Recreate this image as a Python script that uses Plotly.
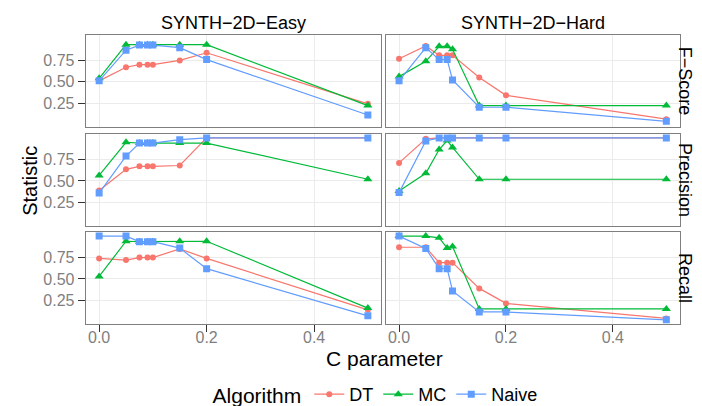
import plotly.graph_objects as go
from plotly.subplots import make_subplots

# ---- data ----
c_values = [0, 0.05, 0.075, 0.09, 0.1, 0.15, 0.2, 0.5]
datasets = ["SYNTH−2D−Easy", "SYNTH−2D−Hard"]
statistics = ["F−Score", "Precision", "Recall"]
algorithms = ["DT", "MC", "Naive"]

easy_fscore_dt = [0.51, 0.67, 0.70, 0.70, 0.70, 0.75, 0.84, 0.24]
easy_fscore_mc = [0.54, 0.935, 0.935, 0.935, 0.935, 0.935, 0.935, 0.22]
easy_fscore_naive = [0.51, 0.87, 0.93, 0.93, 0.93, 0.90, 0.76, 0.11]
hard_fscore_dt = [0.77, 0.92, 0.81, 0.81, 0.81, 0.55, 0.34, 0.06]
hard_fscore_mc = [0.56, 0.74, 0.915, 0.915, 0.88, 0.22, 0.22, 0.22]
hard_fscore_naive = [0.51, 0.90, 0.76, 0.76, 0.52, 0.20, 0.20, 0.035]

easy_prec_dt = [0.39, 0.635, 0.67, 0.67, 0.67, 0.68, 1.0, 1.0]
easy_prec_mc = [0.565, 0.95, 0.94, 0.94, 0.94, 0.94, 0.94, 0.52]
easy_prec_naive = [0.36, 0.79, 0.94, 0.94, 0.94, 0.98, 1.0, 1.0]
hard_prec_dt = [0.71, 0.99, 1.0, 1.0, 1.0, 1.0, 1.0, 1.0]
hard_prec_mc = [0.385, 0.59, 0.865, 0.97, 0.89, 0.52, 0.52, 0.52]
hard_prec_naive = [0.365, 0.965, 1.0, 1.0, 1.0, 1.0, 1.0, 1.0]

easy_recall_dt = [0.74, 0.72, 0.75, 0.75, 0.75, 0.85, 0.74, 0.14]
easy_recall_mc = [0.53, 0.94, 0.935, 0.935, 0.935, 0.94, 0.94, 0.16]
easy_recall_naive = [1.0, 1.0, 0.935, 0.935, 0.935, 0.86, 0.62, 0.07]
hard_recall_dt = [0.87, 0.87, 0.69, 0.69, 0.69, 0.39, 0.215, 0.04]
hard_recall_mc = [1.0, 1.0, 0.98, 0.86, 0.88, 0.15, 0.15, 0.15]
hard_recall_naive = [1.0, 0.855, 0.62, 0.62, 0.36, 0.115, 0.115, 0.023]

x_tick_vals = [0.0, 0.2, 0.4]
x_tick_text = ["0.0", "0.2", "0.4"]
y_tick_vals = [0.25, 0.50, 0.75]
y_tick_text = ["0.25", "0.50", "0.75"]

panel_data = {
    (0, 0): [easy_fscore_dt, easy_fscore_mc, easy_fscore_naive],
    (0, 1): [hard_fscore_dt, hard_fscore_mc, hard_fscore_naive],
    (1, 0): [easy_prec_dt, easy_prec_mc, easy_prec_naive],
    (1, 1): [hard_prec_dt, hard_prec_mc, hard_prec_naive],
    (2, 0): [easy_recall_dt, easy_recall_mc, easy_recall_naive],
    (2, 1): [hard_recall_dt, hard_recall_mc, hard_recall_naive],
}

# ---- style ----
W, H = 702, 406
FONT = "Liberation Sans, Arial, sans-serif"
colors = {"DT": "#F8766D", "MC": "#00BA38", "Naive": "#619CFF"}
symbols = {"DT": "circle", "MC": "triangle-up", "Naive": "square"}
msizes = {"DT": 6, "MC": 8, "Naive": 7}

col_px = [(77.7, 373.3), (377.7, 671.7)]
row_px = [(27.3, 120.0), (127.3, 221.0), (226.7, 320.0)]

fig = make_subplots(rows=3, cols=2)

for (r, c), series in panel_data.items():
    for alg, vals in zip(algorithms, series):
        fig.add_trace(
            go.Scatter(
                x=c_values, y=vals, mode="lines+markers", name=alg,
                legendgroup=alg, showlegend=(r == 0 and c == 0),
                line=dict(color=colors[alg], width=1.2),
                marker=dict(symbol=symbols[alg], size=msizes[alg], color=colors[alg]),
            ),
            row=r + 1, col=c + 1,
        )

for r in range(3):
    for c in range(2):
        idx = r * 2 + c + 1
        x0, x1 = col_px[c]
        y0, y1 = row_px[r]
        xname = "xaxis" if idx == 1 else f"xaxis{idx}"
        yname = "yaxis" if idx == 1 else f"yaxis{idx}"
        fig.layout[xname].update(
            domain=[x0 / W, x1 / W], range=[-0.025, 0.525],
            tickvals=x_tick_vals, ticktext=x_tick_text,
            showticklabels=(r == 2), ticks="outside" if r == 2 else "",
            ticklen=7, tickcolor="#333333", ticklabelstandoff=-8,
            showgrid=True, gridcolor="#ebebeb", gridwidth=1,
            showline=True, mirror=True, linecolor="#7f7f7f", linewidth=1,
            zeroline=False,
            tickfont=dict(family=FONT, size=16, color="#7f7f7f"),
        )
        fig.layout[yname].update(
            domain=[1 - y1 / H, 1 - y0 / H], range=[-0.026, 1.049],
            tickvals=y_tick_vals, ticktext=y_tick_text,
            showticklabels=(c == 0), ticks="outside" if c == 0 else "",
            ticklen=7, tickcolor="#333333",
            showgrid=True, gridcolor="#ebebeb", gridwidth=1,
            showline=True, mirror=True, linecolor="#7f7f7f", linewidth=1,
            zeroline=False,
            tickfont=dict(family=FONT, size=16, color="#7f7f7f"),
        )

annotations = []
for c, name in enumerate(datasets):
    x0, x1 = col_px[c]
    annotations.append(dict(
        text=name, x=(x0 + x1) / 2 / W, y=1 - 15 / H, xref="paper", yref="paper",
        xanchor="center", yanchor="middle", showarrow=False,
        font=dict(family=FONT, size=18, color="black"),
    ))
for r, name in enumerate(statistics):
    y0, y1 = row_px[r]
    annotations.append(dict(
        text=name, x=677 / W, y=1 - (y0 + y1) / 2 / H, xref="paper", yref="paper",
        xanchor="center", yanchor="middle", showarrow=False, textangle=90,
        font=dict(family=FONT, size=18, color="black"),
    ))
annotations.append(dict(
    text="Statistic", x=22 / W, y=1 - 175 / H, xref="paper", yref="paper",
    xanchor="center", yanchor="middle", showarrow=False, textangle=-90,
    font=dict(family=FONT, size=20, color="black"),
))
annotations.append(dict(
    text="C parameter", x=376 / W, y=1 - 355 / H, xref="paper", yref="paper",
    xanchor="center", yanchor="middle", showarrow=False,
    font=dict(family=FONT, size=21, color="black"),
))

fig.update_layout(
    width=W, height=H,
    margin=dict(l=0, r=0, t=0, b=0),
    paper_bgcolor="white", plot_bgcolor="white",
    annotations=annotations,
    font=dict(family=FONT),
    legend=dict(
        orientation="h", x=0.525, y=1 - 392 / H, xanchor="center", yanchor="middle",
        title=dict(text="Algorithm", font=dict(family=FONT, size=21, color="black"), side="left"),
        font=dict(family=FONT, size=18, color="black"),
        itemwidth=30, tracegroupgap=0,
        bgcolor="rgba(0,0,0,0)",
    ),
)

fig.write_html("out.html")
